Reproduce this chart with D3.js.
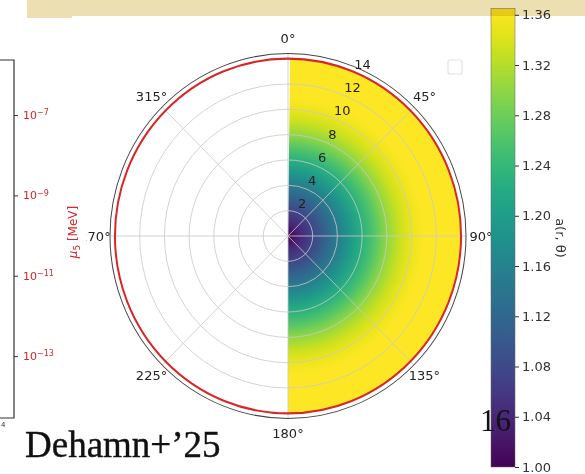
<!DOCTYPE html>
<html>
<head>
<meta charset="utf-8">
<script src="https://cdn.jsdelivr.net/npm/d3@7"></script>
<style>
  body { margin: 0; background: #fff; }
  svg { display: block; font-family: "DejaVu Sans", sans-serif; }
</style>
</head>
<body>
<div id="chart"></div>
<script>
// values
const radii = [0, 1, 2, 3, 4, 5, 6, 7, 8, 9, 10, 11, 12, 13, 14];
const aValues = [1.00, 1.04, 1.075, 1.112, 1.15, 1.19, 1.228, 1.264, 1.30, 1.33, 1.35, 1.36, 1.36, 1.36, 1.36];
const angleTicks = [0, 45, 90, 135, 180, 225, 270, 315];
const radialTicks = [2, 4, 6, 8, 10, 12, 14];
const cbTicks = [1.00, 1.04, 1.08, 1.12, 1.16, 1.20, 1.24, 1.28, 1.32, 1.36];
const muTicks = [1e-7, 1e-9, 1e-11, 1e-13];
const muExp = ["-7", "-9", "-11", "-13"];

const width = 585;
const height = 474;
const cx = 288, cy = 236, yStretch = 1.025;

const svg = d3.select("#chart").append("svg")
  .attr("width", width).attr("height", height);

const defs = svg.append("defs");

const color = d3.scaleSequential(d3.interpolateViridis).domain([1.00, 1.36]);
const r = d3.scaleLinear().domain([0, 14.4]).range([0, 178]);

// radial gradient built from the a(r) samples
const rg = defs.append("radialGradient")
  .attr("id", "rgrad")
  .attr("gradientUnits", "userSpaceOnUse")
  .attr("cx", 0).attr("cy", 0).attr("r", r(14));
rg.selectAll("stop").data(radii).join("stop")
  .attr("offset", (d, i) => d / 14)
  .attr("stop-color", (d, i) => color(aValues[i]));

const polar = svg.append("g")
  .attr("transform", `translate(${cx},${cy}) scale(1,${yStretch})`);

// coloured half disk (0 to 180 deg)
polar.append("path")
  .attr("d", d3.arc().innerRadius(0).outerRadius(r(14)).startAngle(0.012).endAngle(Math.PI)())
  .attr("fill", "url(#rgrad)");

// grid
polar.selectAll(".ring").data(radialTicks.slice(0, -1)).join("circle")
  .attr("r", d => r(d))
  .attr("fill", "none")
  .attr("stroke", "#c8c8c8")
  .attr("stroke-width", 0.8);

polar.selectAll(".spoke").data(angleTicks).join("line")
  .attr("x1", 0).attr("y1", 0)
  .attr("x2", d => r(14.4) * Math.sin(d * Math.PI / 180))
  .attr("y2", d => -r(14.4) * Math.cos(d * Math.PI / 180))
  .attr("stroke", "#c8c8c8")
  .attr("stroke-width", 0.8);

// red circle at r = 14 and outer spine
polar.append("circle")
  .attr("r", r(14))
  .attr("fill", "none")
  .attr("stroke", "#d62728")
  .attr("stroke-width", 2);

polar.append("circle")
  .attr("r", r(14.4))
  .attr("fill", "none")
  .attr("stroke", "#444")
  .attr("stroke-width", 1);

// angle labels
svg.selectAll(".alab").data(angleTicks).join("text")
  .attr("x", d => cx + 193 * Math.sin(d * Math.PI / 180))
  .attr("y", d => cy - 193 * yStretch * Math.cos(d * Math.PI / 180))
  .attr("dy", "0.35em")
  .attr("text-anchor", "middle")
  .style("font-size", "13px")
  .style("fill", "#222")
  .text(d => d + "\u00b0");

// radial labels along 24 deg
const la = 24 * Math.PI / 180;
svg.selectAll(".rlab").data(radialTicks).join("text")
  .attr("x", d => cx + (r(d) + 10) * Math.sin(la))
  .attr("y", d => cy - (r(d) + 10) * yStretch * Math.cos(la))
  .attr("dy", "0.35em")
  .attr("text-anchor", "middle")
  .style("font-size", "13px")
  .style("fill", "#222")
  .text(d => d);

// empty legend box
svg.append("rect")
  .attr("x", 448).attr("y", 60).attr("width", 14).attr("height", 14)
  .attr("rx", 2)
  .attr("fill", "none")
  .attr("stroke", "#e2e2e2")
  .attr("stroke-width", 1.2);

// colorbar
const cb = d3.scaleLinear().domain([1.00, 1.365]).range([467, 8.5]);
const lg = defs.append("linearGradient")
  .attr("id", "cbgrad")
  .attr("x1", 0).attr("y1", 1).attr("x2", 0).attr("y2", 0);
lg.selectAll("stop").data(d3.range(0, 1.0001, 0.05)).join("stop")
  .attr("offset", d => d)
  .attr("stop-color", d => color(1.00 + d * 0.365));

svg.append("rect")
  .attr("x", 491).attr("y", cb(1.365))
  .attr("width", 24).attr("height", cb(1.00) - cb(1.365))
  .attr("fill", "url(#cbgrad)")
  .attr("stroke", "#666")
  .attr("stroke-width", 0.5);

const cbAxis = svg.append("g")
  .attr("transform", "translate(515,0)")
  .call(d3.axisRight(cb).tickValues(cbTicks).tickFormat(d3.format(".2f")).tickSize(4).tickSizeOuter(0));
cbAxis.select(".domain").remove();
cbAxis.selectAll("text").style("font-size", "13px").style("fill", "#333")
  .style("font-family", "DejaVu Sans");
cbAxis.selectAll("line").attr("stroke", "#333");

svg.append("text")
  .attr("transform", "translate(556,238) rotate(90)")
  .attr("text-anchor", "middle")
  .style("font-size", "13px")
  .style("fill", "#333")
  .text("a(r, \u03b8)");

// left panel covers the 2 of 270
svg.append("rect")
  .attr("x", 0).attr("y", 20).attr("width", 86).attr("height", 410)
  .attr("fill", "#fff");

const mu = d3.scaleLog().domain([Math.pow(10, -14.54), Math.pow(10, -5.63)]).range([418, 60]);

svg.append("path")
  .attr("d", "M0,60H14V418H0")
  .attr("fill", "none")
  .attr("stroke", "#333")
  .attr("stroke-width", 1.2);

const muAxis = svg.append("g")
  .attr("transform", "translate(14,0)")
  .call(d3.axisRight(mu).tickValues(muTicks).tickFormat("").tickSize(4).tickSizeOuter(0));
muAxis.select(".domain").remove();
muAxis.selectAll("line").attr("stroke", "#333");

const muLab = svg.selectAll(".mulab").data(muTicks).join("text")
  .attr("x", 23)
  .attr("y", d => mu(d))
  .attr("dy", "0.35em")
  .style("font-size", "11px")
  .style("fill", "#d62728");
muLab.append("tspan").text("10");
muLab.append("tspan")
  .attr("dy", "-0.45em")
  .style("font-size", "8px")
  .text((d, i) => muExp[i].replace("-", "\u2212"));

const muTitle = svg.append("text")
  .attr("transform", "translate(77,232) rotate(-90)")
  .attr("text-anchor", "middle")
  .style("font-size", "12px")
  .style("fill", "#d62728");
muTitle.append("tspan").style("font-style", "italic").text("\u03bc");
muTitle.append("tspan").attr("dy", 3).style("font-size", "9px").text("5");
muTitle.append("tspan").attr("dy", -3).text(" [MeV]");

svg.append("text")
  .attr("x", 1).attr("y", 427)
  .style("font-size", "7px")
  .style("fill", "#333")
  .text("4");

// slide text
svg.append("text")
  .attr("x", 25).attr("y", 457)
  .style("font-family", "Liberation Serif, serif")
  .style("font-size", "37px")
  .style("fill", "#111")
  .style("stroke", "#111")
  .style("stroke-width", 0.4)
  .text("Dehamn+\u201925");

svg.append("text")
  .attr("x", 480).attr("y", 431)
  .style("font-family", "Liberation Serif, serif")
  .style("font-size", "31px")
  .style("fill", "#111")
  .text("16");

// beige banner on top
svg.append("path")
  .attr("d", "M27,0H585V16H72V18H27Z")
  .attr("fill", "#ecdfb2")
  .style("mix-blend-mode", "multiply");
</script>
</body>
</html>
